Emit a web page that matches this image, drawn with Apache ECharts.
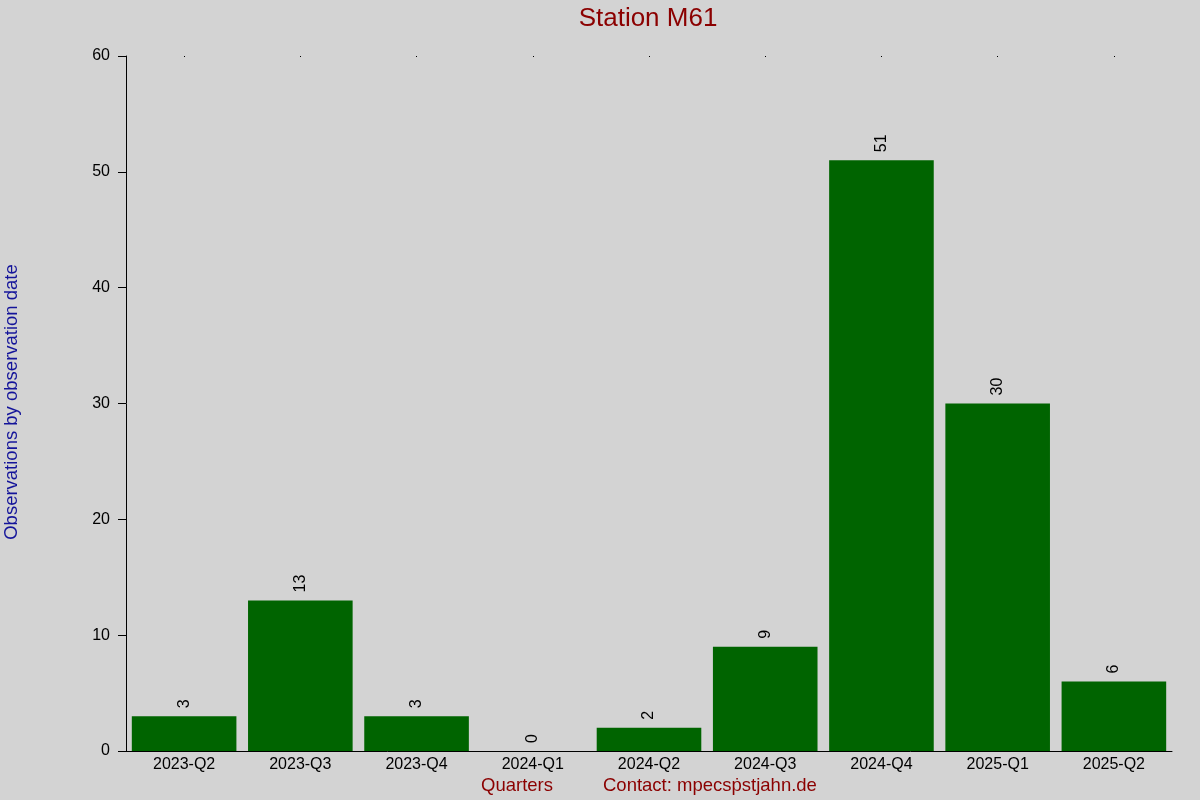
<!DOCTYPE html>
<html>
<head>
<meta charset="utf-8">
<script src="https://cdn.jsdelivr.net/npm/echarts@6/dist/echarts.min.js"></script>
<style>
  html, body { margin: 0; padding: 0; background: #d3d3d3; }
  #main { width: 1200px; height: 800px; }
</style>
</head>
<body>
<div id="main"></div>
<script>
var quarters = ['2023-Q2', '2023-Q3', '2023-Q4', '2024-Q1', '2024-Q2', '2024-Q3', '2024-Q4', '2025-Q1', '2025-Q2'];
var observations = [3, 13, 3, 0, 2, 9, 51, 30, 6];
var yTicks = [0, 10, 20, 30, 40, 50, 60];

document.addEventListener('DOMContentLoaded', function() {
  var myChart = echarts.init(document.getElementById('main'));
  var font = 'Liberation Sans, Arial, sans-serif';

  var option = {
    backgroundColor: '#d3d3d3',
    animation: false,
    textStyle: { fontFamily: font },
    grid: { left: 126, right: 28, top: 56, bottom: 49 },
    xAxis: [
      {
        type: 'category',
        data: quarters,
        axisLine: { lineStyle: { color: '#000', width: 1 } },
        axisTick: { show: false },
        axisLabel: { color: '#000', fontSize: 16, margin: 6, fontFamily: font }
      },
      {
        // small marks along the top edge
        type: 'category',
        position: 'top',
        data: quarters,
        axisLine: { show: false },
        axisTick: { show: true, alignWithLabel: true, length: 1, inside: true, lineStyle: { color: '#000' } },
        axisLabel: { show: false }
      }
    ],
    yAxis: {
      type: 'value',
      min: yTicks[0],
      max: yTicks[yTicks.length - 1],
      interval: 10,
      splitLine: { show: false },
      axisLine: { show: true, lineStyle: { color: '#000', width: 1 } },
      axisTick: { show: true, length: 8, lineStyle: { color: '#000' } },
      axisLabel: { color: '#000', fontSize: 16, margin: 16, fontFamily: font }
    },
    series: [
      {
        name: 'Observations',
        type: 'bar',
        data: observations,
        barCategoryGap: '10%',
        itemStyle: { color: '#006400' },
        label: {
          show: true,
          position: 'top',
          rotate: 90,
          align: 'left',
          verticalAlign: 'middle',
          distance: 8,
          color: '#000',
          fontSize: 16,
          fontFamily: font
        }
      }
    ],
    graphic: [
      {
        type: 'text',
        x: 648,
        y: 19,
        style: {
          text: 'Station M61',
          fill: '#8b0000',
          font: '26px ' + font,
          align: 'center',
          verticalAlign: 'middle'
        }
      },
      {
        type: 'text',
        x: 12,
        y: 402,
        rotation: Math.PI / 2,
        style: {
          text: 'Observations by observation date',
          fill: '#14149a',
          font: '18.5px ' + font,
          align: 'center',
          verticalAlign: 'middle'
        }
      },
      {
        type: 'text',
        x: 481,
        y: 786,
        style: {
          text: 'Quarters',
          fill: '#8b0000',
          font: '18.5px ' + font,
          align: 'left',
          verticalAlign: 'middle'
        }
      },
      {
        type: 'text',
        x: 603,
        y: 786,
        style: {
          text: 'Contact: mpecs\u1E57stjahn.de',
          fill: '#8b0000',
          font: '18.5px ' + font,
          align: 'left',
          verticalAlign: 'middle'
        }
      }
    ]
  };

  myChart.setOption(option);
});
</script>
</body>
</html>
